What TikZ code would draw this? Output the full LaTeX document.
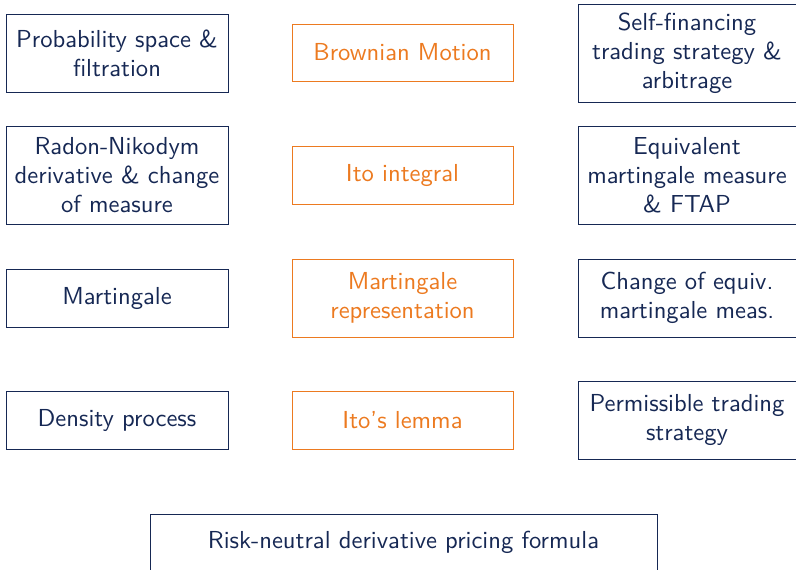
\documentclass[tikz,border=0pt]{standalone}
\usepackage{fontspec}
\newfontfamily\lmsten{lmsans10-regular.otf}
\definecolor{navy}{RGB}{22,40,84}
\definecolor{myorange}{RGB}{236,122,32}
\begin{document}
\begin{tikzpicture}[x=1pt,y=-1pt,
  box/.style={draw=navy,line width=0.9pt,text=navy,rectangle,align=center,inner sep=0pt,
    font=\lmsten\fontsize{24.6}{29}\selectfont},
  obox/.style={box,draw=myorange,text=myorange}]
\useasboundingbox (0,0) rectangle (796,570);
\node[box,minimum width=222pt,minimum height=78pt] (l1) at (117,53) {Probability space \&\\filtration};
\node[box,minimum width=222pt,minimum height=98pt] (l2) at (117,175) {Radon-Nikodym\\derivative \& change\\of measure};
\node[box,minimum width=222pt,minimum height=58pt] (l3) at (117,298) {Martingale};
\node[box,minimum width=222pt,minimum height=58pt] (l4) at (117,420) {Density process};
\node[obox,minimum width=221pt,minimum height=57pt] (m1) at (402.5,52.5) {Brownian Motion};
\node[obox,minimum width=221pt,minimum height=58pt] (m2) at (402.5,175) {Ito integral};
\node[obox,minimum width=221pt,minimum height=78pt] (m3) at (402.5,298) {Martingale\\representation};
\node[obox,minimum width=221pt,minimum height=58pt] (m4) at (402.5,420) {Ito’s lemma};
\node[box,minimum width=218pt,minimum height=98pt] (r1) at (687,53) {Self-financing\\trading strategy \&\\arbitrage};
\node[box,minimum width=218pt,minimum height=98pt] (r2) at (687,175) {Equivalent\\martingale measure\\\& FTAP};
\node[box,minimum width=218pt,minimum height=78pt] (r3) at (687,298) {Change of equiv.\\martingale meas.};
\node[box,minimum width=218pt,minimum height=78pt] (r4) at (687,420) {Permissible trading\\strategy};
\node[box,minimum width=507pt,minimum height=57pt] (b) at (403.5,542.5) {Risk-neutral derivative pricing formula};
\end{tikzpicture}
\end{document}
